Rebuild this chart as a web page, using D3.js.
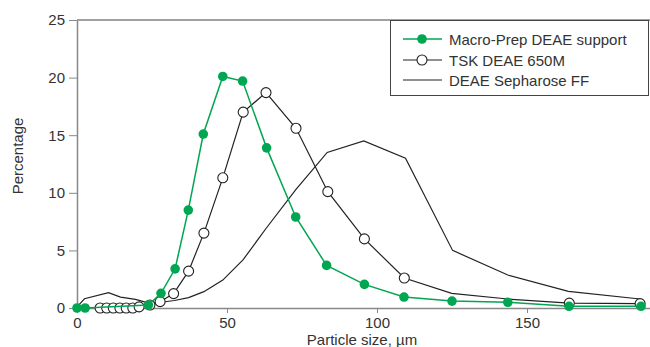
<!DOCTYPE html>
<html><head><meta charset="utf-8">
<script src="https://cdn.jsdelivr.net/npm/d3@7"></script>
<style>body{margin:0;background:#fff}svg text{font-family:"Liberation Sans",Arial,sans-serif;fill:#333}</style>
</head><body><svg id="c" width="650" height="347"></svg>
<script>
const seriesNames = ["Macro-Prep DEAE support", "TSK DEAE 650M", "DEAE Sepharose FF"];
const xTicks = [0, 50, 100, 150];
const yTicks = [0, 5, 10, 15, 20, 25];

const macroX = [0, 2.7, 23.8, 28, 32.7, 37.1, 42.1, 48.6, 55.2, 63.2, 72.9, 83.2, 95.8, 109, 125, 143.6, 164, 188];
const macroY = [0, 0, 0.25, 1.27, 3.4, 8.5, 15.1, 20.1, 19.7, 13.9, 7.9, 3.7, 2.05, 0.95, 0.6, 0.5, 0.15, 0.15];

const tskX = [7.7, 9.9, 12.1, 14.3, 16.4, 18.6, 20.7, 24.3, 27.7, 32.2, 37.2, 42.3, 48.6, 55.4, 63, 73, 83.6, 95.8, 109.1, 124.9, 143.6, 164.1, 187.7];
const tskY = [0, 0, 0, 0, 0, 0, 0.1, 0.26, 0.55, 1.25, 3.2, 6.5, 11.3, 17.0, 18.7, 15.6, 10.1, 6.0, 2.6, 1.27, 0.78, 0.42, 0.38];
const tskMarker = [1,1,1,1,1,1,1,1,1,1,1,1,1,1,1,1,1,1,1,0,0,1,1];

const sephX = [0.4, 2.5, 10.5, 14.5, 19.5, 24.3, 28, 32.5, 37.2, 42.3, 48.6, 55.4, 63, 73, 83.4, 95.6, 109.5, 125.2, 143.6, 163.8, 187.7];
const sephY = [0.2, 0.8, 1.33, 0.95, 0.75, 0.4, 0.5, 0.65, 0.9, 1.42, 2.42, 4.2, 6.9, 10.3, 13.5, 14.5, 13.0, 5.0, 2.86, 1.45, 0.78];

const W = 650, H = 347;
const m = {l: 77, t: 20, r: 647, b: 308};
const x = d3.scaleLinear().domain([0, 190]).range([m.l, m.r]);
const y = d3.scaleLinear().domain([0, 25]).range([m.b, m.t]);
const svg = d3.select("#c");
const green = "#00a651";

// frame
svg.append("line").attr("x1", m.l).attr("x2", 650).attr("y1", m.t).attr("y2", m.t).attr("stroke", "#444").attr("stroke-width", 1);

// axes
const xa = svg.append("g").attr("transform", `translate(0,${m.b})`)
  .call(d3.axisBottom(x).tickValues(xTicks).tickSize(5).tickSizeOuter(0).tickPadding(4));
xa.select(".domain").attr("d", `M${m.l},0.5H650`);
const ya = svg.append("g").attr("transform", `translate(${m.l},0)`)
  .call(d3.axisLeft(y).tickValues(yTicks).tickSize(8).tickSizeOuter(0).tickPadding(4));
[xa, ya].forEach(g => {
  g.selectAll(".domain").attr("stroke", "#888").attr("stroke-width", 1.5);
  g.selectAll(".tick line").attr("stroke", "#888").attr("stroke-width", 1);
  g.selectAll("text").attr("font-size", 15).attr("fill", "#333");
});

svg.append("text").attr("x", 362).attr("y", 345).attr("text-anchor", "middle").attr("font-size", 15).text("Particle size, µm");
svg.append("text").attr("transform", "translate(23,156) rotate(-90)").attr("text-anchor", "middle").attr("font-size", 15).text("Percentage");

const line = d3.line().x(d => x(d[0])).y(d => y(d[1]));
const sephData = sephX.map((v, i) => [v, sephY[i]]);
const tskData = tskX.map((v, i) => [v, tskY[i], tskMarker[i]]);
const macroData = macroX.map((v, i) => [v, macroY[i]]);

svg.append("path").attr("d", line(sephData)).attr("fill", "none").attr("stroke", "#222").attr("stroke-width", 1.2);
svg.append("path").attr("d", line(tskData)).attr("fill", "none").attr("stroke", "#222").attr("stroke-width", 1.2);
svg.append("g").selectAll("circle").data(tskData.filter(d => d[2])).join("circle")
  .attr("cx", d => x(d[0])).attr("cy", d => y(d[1])).attr("r", 5)
  .attr("fill", "#fff").attr("stroke", "#222").attr("stroke-width", 1.1);
svg.append("path").attr("d", line(macroData)).attr("fill", "none").attr("stroke", green).attr("stroke-width", 1.5);
svg.append("g").selectAll("circle").data(macroData).join("circle")
  .attr("cx", d => x(d[0])).attr("cy", d => y(d[1])).attr("r", 4.8).attr("fill", green);

// legend
const lg = svg.append("g");
lg.append("rect").attr("x", 390.5).attr("y", 20.5).attr("width", 258).attr("height", 75).attr("fill", "#fff").attr("stroke", "#444").attr("stroke-width", 1);
const rows = [39, 60, 80];
seriesNames.forEach((n, i) => {
  const yy = rows[i];
  lg.append("line").attr("x1", 403).attr("x2", 442).attr("y1", yy).attr("y2", yy)
    .attr("stroke", i === 0 ? green : "#222").attr("stroke-width", i === 0 ? 1.5 : 1.2);
  if (i === 0) lg.append("circle").attr("cx", 422).attr("cy", yy).attr("r", 4.8).attr("fill", green);
  if (i === 1) lg.append("circle").attr("cx", 422).attr("cy", yy).attr("r", 5).attr("fill", "#fff").attr("stroke", "#222").attr("stroke-width", 1.1);
  lg.append("text").attr("x", 449).attr("y", yy + 5.5).attr("font-size", 15).text(n);
});
</script></body></html>
